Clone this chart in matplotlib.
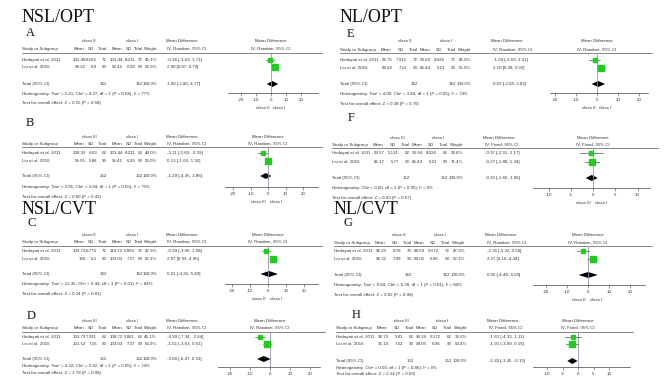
import matplotlib.pyplot as plt

plt.rcParams['font.family'] = ['Liberation Sans', 'DejaVu Sans']
plt.rcParams['axes.unicode_minus'] = False

W, H = 664, 379
SMALL = 3.2
TEXT = '#333333'
GREEN = '#1fcc1f'

studies = ['Hedayati et al. 2011', 'Liu et al. 2016']

# NSL/OPT, class II vs class I
A_mean_exp = [102.48, 98.22]
A_sd_exp = [8.165, 6.9]
A_n_exp = [72, 90]
A_mean_ctl = [103.44, 95.42]
A_sd_ctl = [8.211, 6.39]
A_n_ctl = [72, 90]
A_weight = [45.1, 54.9]
A_md = [-0.96, 2.80]
A_lo = [-3.63, 0.87]
A_hi = [1.71, 4.73]
A_total = [1.00, -2.80, 4.77]
A_het = 'Tau² = 5.41; Chi² = 4.27, df = 1 (P = 0.04); I² = 77%'
A_z = 'Z = 0.55 (P = 0.58)'

# NSL/OPT, class III vs class I
B_mean_exp = [100.33, 95.55]
B_sd_exp = [6.63, 5.86]
B_n_exp = [62, 90]
B_mean_ctl = [103.44, 95.42]
B_sd_ctl = [8.211, 6.39]
B_n_ctl = [62, 90]
B_weight = [44.0, 56.0]
B_md = [-3.11, 0.13]
B_lo = [-5.83, -1.66]
B_hi = [-0.39, 1.92]
B_total = [-1.29, -4.45, 1.86]
B_het = 'Tau² = 3.81; Chi² = 3.94, df = 1 (P = 0.05); I² = 75%'
B_z = 'Z = 0.80 (P = 0.42)'

# NSL/CVT, class II vs class I
C_mean_exp = [109.73, 106]
C_sd_exp = [6.773, 6.1]
C_n_exp = [72, 90]
C_mean_ctl = [110.72, 103.03]
C_sd_ctl = [5.859, 7.37]
C_n_ctl = [72, 90]
C_weight = [47.9, 52.1]
C_md = [-0.99, 2.97]
C_lo = [-3.06, 0.99]
C_hi = [1.08, 4.95]
C_total = [0.61, -4.26, 5.49]
C_het = 'Tau² = 12.35; Chi² = 6.44, df = 1 (P = 0.01); I² = 84%'
C_z = 'Z = 0.24 (P = 0.81)'

# NSL/CVT, class III vs class I
D_mean_exp = [103.73, 101.52]
D_sd_exp = [7.391, 7.16]
D_n_exp = [62, 90]
D_mean_ctl = [108.72, 103.03]
D_sd_ctl = [5.861, 7.37]
D_n_ctl = [62, 90]
D_weight = [46.1, 53.9]
D_md = [-4.99, -1.51]
D_lo = [-7.34, -3.63]
D_hi = [-2.64, 0.61]
D_total = [-3.08, -6.47, 0.31]
D_het = 'Tau² = 4.22; Chi² = 3.92, df = 1 (P = 0.05); I² = 74%'
D_z = 'Z = 1.78 (P = 0.08)'

# NL/OPT, class II vs class I
E_mean_exp = [92.75, 88.54]
E_sd_exp = [7.915, 7.12]
E_n_exp = [72, 90]
E_mean_ctl = [93.84, 86.44]
E_sd_ctl = [8.024, 5.21]
E_n_ctl = [72, 90]
E_weight = [45.0, 55.0]
E_md = [-1.09, 2.10]
E_lo = [-3.69, 0.28]
E_hi = [1.51, 3.92]
E_total = [0.62, -2.58, 3.83]
E_het = 'Tau² = 4.00; Chi² = 3.84, df = 1 (P = 0.05); I² = 74%'
E_z = 'Z = 0.38 (P = 0.70)'

# NL/OPT, class III vs class I
F_mean_exp = [93.57, 86.17]
F_sd_exp = [5.131, 5.77]
F_n_exp = [62, 90]
F_mean_ctl = [93.94, 86.44]
F_sd_ctl = [8.024, 5.21]
F_n_ctl = [62, 90]
F_weight = [28.6, 71.4]
F_md = [-0.37, -0.27]
F_lo = [-2.91, -1.88]
F_hi = [2.17, 1.34]
F_total = [-0.30, -1.66, 1.06]
F_het = 'Chi² = 0.00, df = 1 (P = 0.95); I² = 0%'
F_z = 'Z = 0.43 (P = 0.67)'

# NL/CVT, class II vs class I
G_mean_exp = [96.23, 96.32]
G_sd_exp = [6.78, 7.09]
G_n_exp = [72, 90]
G_mean_ctl = [98.59, 94.05]
G_sd_ctl = [9.172, 6.96]
G_n_ctl = [72, 90]
G_weight = [47.9, 52.1]
G_md = [-2.36, 2.27]
G_lo = [-5.22, 0.10]
G_hi = [0.50, 4.44]
G_total = [0.05, -4.48, 4.59]
G_het = 'Tau² = 8.84; Chi² = 6.30, df = 1 (P = 0.01); I² = 84%'
G_z = 'Z = 0.02 (P = 0.98)'

# NL/CVT, class III vs class I
H_mean_exp = [96.73, 92.14]
H_sd_exp = [5.81, 7.22]
H_n_exp = [62, 90]
H_mean_ctl = [98.34, 94.05]
H_sd_ctl = [9.172, 6.96]
H_n_ctl = [62, 90]
H_weight = [36.6, 63.4]
H_md = [-1.61, -1.91]
H_lo = [-4.33, -3.98]
H_hi = [1.11, 0.16]
H_total = [-1.80, -3.45, -0.15]
H_het = 'Chi² = 0.03, df = 1 (P = 0.86); I² = 0%'
H_z = 'Z = 2.14 (P = 0.03)'

g = globals()
panels = {}
for key in 'ABCDEFGH':
    panels[key] = {name: g[key + '_' + name] for name in
                   ['mean_exp', 'sd_exp', 'n_exp', 'mean_ctl', 'sd_ctl', 'n_ctl',
                    'weight', 'md', 'lo', 'hi', 'total', 'het', 'z']}

# column x positions (pixels) for the left and right halves
LEFT = dict(study=22, mean1=86, sd1=97, n1=107, mean2=123, sd2=135, n2=143,
            weight=157, md=167, grp1=89, grp2=132, mdhdr=182)
RIGHT = dict(study=340, mean1=393, sd1=407, n1=418, mean2=431, sd2=445, n2=456,
             weight=471, md=493, grp1=405, grp2=446, mdhdr=507)

layout = {
    'A': dict(cols=LEFT, dx=0, title='NSL/OPT', title_y=18, letter_x=26, grp='class II', model='Random',
              y=dict(letter=33, grp=41, hdr=49, line=53, rows=(60, 67), total=84, het=94, test=103),
              f=dict(zero=271, ppu=1.5, left=228, right=318, end=322, axis=93, ticks=[-20, -10, 0, 10, 20])),
    'B': dict(cols=LEFT, dx=0, title=None, letter_x=26, grp='class III', model='Random',
              y=dict(letter=123, grp=137, hdr=144, line=147, rows=(153, 161), total=176, het=187, test=197),
              f=dict(zero=268, ppu=1.75, left=225, right=318, end=322, axis=187, ticks=[-20, -10, 0, 10, 20])),
    'C': dict(cols=LEFT, dx=0, title='NSL/CVT', title_y=209, letter_x=28, grp='class II', model='Random',
              y=dict(letter=223, grp=235, hdr=242, line=246, rows=(251, 259), total=274, het=284, test=294),
              f=dict(zero=268, ppu=1.8, left=225, right=318, end=322, axis=284, ticks=[-20, -10, 0, 10, 20])),
    'D': dict(cols=LEFT, dx=0, title=None, letter_x=27, grp='class III', model='Random',
              y=dict(letter=316, grp=321, hdr=328, line=332, rows=(337, 344), total=359, het=366, test=373),
              f=dict(zero=270, ppu=2.0, left=218, right=320, end=325, axis=367, ticks=[-20, -10, 0, 10, 20])),
    'E': dict(cols=RIGHT, dx=0, title='NL/OPT', title_y=18, letter_x=347, grp='class II', model='Random',
              y=dict(letter=34, grp=41, hdr=50, line=53, rows=(60, 68), total=84, het=94, test=104),
              f=dict(zero=597, ppu=2.1, left=550, right=648, end=652, axis=93, ticks=[-20, -10, 0, 10, 20])),
    'F': dict(cols=RIGHT, dx=-8, title=None, letter_x=348, grp='class III', model='Fixed',
              y=dict(letter=118, grp=138, hdr=145, line=148, rows=(153, 162), total=178, het=188, test=198),
              f=dict(zero=593, ppu=4.45, left=533, right=650, end=658, axis=188, ticks=[-10, -5, 0, 5, 10])),
    'G': dict(cols=RIGHT, dx=-6, title='NL/CVT', title_y=210, letter_x=343, grp='class II', model='Random',
              y=dict(letter=223, grp=235, hdr=243, line=246, rows=(251, 259), total=275, het=285, test=295),
              f=dict(zero=588, ppu=2.1, left=533, right=645, end=652, axis=285, ticks=[-20, -10, 0, 10, 20])),
    'H': dict(cols=RIGHT, dx=-4, title=None, letter_x=352, grp='class III', model='Fixed',
              y=dict(letter=315, grp=321, hdr=328, line=332, rows=(337, 344), total=361, het=368, test=374),
              f=dict(zero=578, ppu=3.1, left=533, right=630, end=633, axis=367, ticks=[-10, -5, 0, 5, 10])),
}

# header labels sit a little left of the numbers under them
HDR_SHIFT = dict(mean1=-2, sd1=-3, n1=0, mean2=-1, sd2=-3, n2=0, weight=0)

fig = plt.figure(figsize=(W / 100, H / 100), dpi=100)
canvas = fig.add_axes([0, 0, 1, 1])
canvas.set_xlim(0, W)
canvas.set_ylim(H, 0)
canvas.axis('off')


def fmt_md(md, lo, hi):
    return f'{md:.2f} [{lo:.2f}, {hi:.2f}]'


def put(x, y, s, ha='left'):
    canvas.text(x, y, s, fontsize=SMALL, color=TEXT, ha=ha, va='center')


def draw_panel(key, d, lay):
    c = {k: v + lay['dx'] for k, v in lay['cols'].items()}
    y = lay['y']
    f = lay['f']

    if lay['title']:
        canvas.text(c['study'], lay['title_y'], lay['title'], family='Liberation Serif',
                    fontsize=13, color='#111111', va='center')
    canvas.text(lay['letter_x'], y['letter'], key, family='Liberation Serif',
                fontsize=9, color='#111111', va='center')

    # table headers
    put(c['grp1'], y['grp'], lay['grp'], ha='center')
    put(c['grp2'], y['grp'], 'class I', ha='center')
    put(c['mdhdr'], y['grp'], 'Mean Difference', ha='center')
    put(f['zero'], y['grp'], 'Mean Difference', ha='center')
    ci_hdr = f"IV, {lay['model']}, 95% CI"
    put(c['study'], y['hdr'], 'Study or Subgroup')
    for col, lab in [('mean1', 'Mean'), ('sd1', 'SD'), ('n1', 'Total'),
                     ('mean2', 'Mean'), ('sd2', 'SD'), ('n2', 'Total'), ('weight', 'Weight')]:
        put(c[col] + HDR_SHIFT[col], y['hdr'], lab, ha='right')
    put(c['md'], y['hdr'], ci_hdr)
    put(f['zero'], y['hdr'], ci_hdr, ha='center')
    canvas.plot([c['study'], f['end']], [y['line'], y['line']], color='#555555', lw=0.5)

    # study rows
    for i, name in enumerate(studies):
        ry = y['rows'][i]
        put(c['study'], ry, name)
        put(c['mean1'], ry, str(d['mean_exp'][i]), ha='right')
        put(c['sd1'], ry, str(d['sd_exp'][i]), ha='right')
        put(c['n1'], ry, str(d['n_exp'][i]), ha='right')
        put(c['mean2'], ry, str(d['mean_ctl'][i]), ha='right')
        put(c['sd2'], ry, str(d['sd_ctl'][i]), ha='right')
        put(c['n2'], ry, str(d['n_ctl'][i]), ha='right')
        put(c['weight'], ry, f"{d['weight'][i]:.1f}%", ha='right')
        put(c['md'], ry, fmt_md(d['md'][i], d['lo'][i], d['hi'][i]))

    tot_md, tot_lo, tot_hi = d['total']
    put(c['study'], y['total'], 'Total (95% CI)')
    put(c['n1'], y['total'], str(sum(d['n_exp'])), ha='right')
    put(c['n2'], y['total'], str(sum(d['n_ctl'])), ha='right')
    put(c['weight'], y['total'], f"{sum(d['weight']):.1f}%", ha='right')
    put(c['md'], y['total'], fmt_md(tot_md, tot_lo, tot_hi))
    put(c['study'], y['het'], 'Heterogeneity: ' + d['het'])
    put(c['study'], y['test'], 'Test for overall effect: ' + d['z'])

    # forest plot
    ax = fig.add_axes([f['left'] / W, 1 - f['axis'] / H,
                       (f['right'] - f['left']) / W, (f['axis'] - y['line']) / H])
    ax.set_xlim((f['left'] - f['zero']) / f['ppu'], (f['right'] - f['zero']) / f['ppu'])
    ax.set_ylim(f['axis'], y['line'])
    ax.patch.set_visible(False)
    for side in ['top', 'left', 'right']:
        ax.spines[side].set_visible(False)
    ax.spines['bottom'].set_linewidth(0.5)
    ax.spines['bottom'].set_color('#444444')
    ax.set_yticks([])
    ax.set_xticks(f['ticks'])
    ax.set_xticklabels([str(t) for t in f['ticks']])
    ax.tick_params(axis='x', labelsize=SMALL, length=2, width=0.4, pad=1.5,
                   colors='#444444', labelcolor=TEXT)
    ax.axvline(0, color='#9a8fb0', lw=0.6)

    for i in range(len(studies)):
        ry = y['rows'][i]
        ax.plot([d['lo'][i], d['hi'][i]], [ry, ry], color='#222222', lw=0.4, clip_on=False)
        ax.plot(d['md'][i], ry, 's', color=GREEN, mec=GREEN,
                ms=5.2 * (d['weight'][i] / 100) ** 0.5, clip_on=False)
    ty = y['total']
    ax.fill([tot_lo, tot_md, tot_hi, tot_md], [ty, ty - 3, ty, ty + 3],
            color='black', lw=0, clip_on=False)

    # favours labels under the axis; the bottom row runs off the page edge
    put(f['zero'] - 2, f['axis'] + 15, lay['grp'], ha='right')
    put(f['zero'] + 2, f['axis'] + 15, 'class I')


for key in 'ABCDEFGH':
    draw_panel(key, panels[key], layout[key])

fig.savefig('out.png', dpi=100)
